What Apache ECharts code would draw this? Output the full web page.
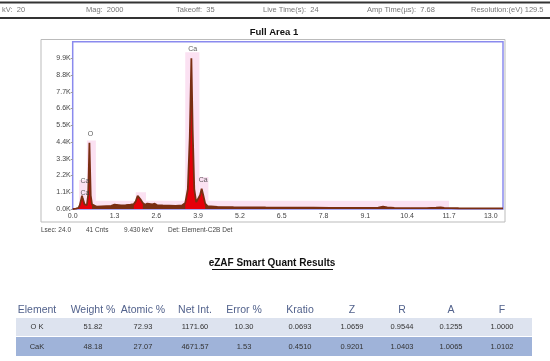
<!DOCTYPE html>
<html><head><meta charset="utf-8">
<script src="https://cdn.jsdelivr.net/npm/echarts@6/dist/echarts.min.js"></script>
<style>html,body{margin:0;padding:0;background:#fff}#c{width:550px;height:361px}</style>
</head><body><div id="c"></div>
<script>
// ---- spectrum data (keV, counts) ----
const energy = [0.00,0.10,0.18,0.22,0.26,0.29,0.31,0.34,0.37,0.40,0.44,0.48,0.50,0.52,0.54,0.56,0.60,0.66,0.75,0.90,1.05,1.20,1.30,1.36,1.50,1.65,1.80,1.90,1.96,2.02,2.06,2.12,2.18,2.25,2.32,2.38,2.48,2.55,2.62,2.80,3.00,3.20,3.40,3.50,3.58,3.64,3.69,3.73,3.78,3.84,3.90,3.96,4.01,4.06,4.12,4.20,4.50,5.00,5.50,6.00,6.50,7.00,7.50,8.00,8.50,9.00,9.50,9.65,9.71,9.78,10.00,10.50,11.00,11.30,11.44,11.55,12.00,12.50,13.00,13.38];
const counts = [0,20,80,250,600,870,700,500,300,220,260,900,2500,4350,2600,900,300,180,150,170,190,210,290,220,230,250,290,320,500,860,780,600,400,280,360,270,300,350,260,230,220,210,230,400,1300,4700,9900,5200,1300,450,500,900,1330,900,350,180,140,120,110,100,95,90,85,80,75,75,90,160,200,110,65,60,60,90,110,70,50,45,40,35];
const roiRanges = [[0.18,0.62],[1.90,2.20],[3.50,4.15]];
const roiBands = [[0.20,0.44,1900],[0.44,0.72,4500],[1.96,2.28,1100],[3.50,3.94,10300],[3.94,4.22,2100],[0.72,11.7,550]];
const peakNames = ['Ca','Ca','O','Ca','Ca'];
const peakE = [0.38,0.38,0.55,3.73,4.06];
const peakY = [1812,1041,4929,10491,1878];
const yTicks = {min:0,max:10990,interval:1100};
const xTicks = {min:0,max:13.38,interval:1.3};
// ---- header / footer ----
const headerTexts = [['kV:  20',2],['Mag:  2000',86],['Takeoff:  35',176],['Live Time(s):  24',263],['Amp Time(µs):  7.68',367],['Resolution:(eV) 129.5',471]];
const footerTexts = [['Lsec: 24.0',41],['41 Cnts',86],['9.430 keV',124],['Det: Element-C2B Det',168]];
// ---- table ----
const tableHeaders = ['Element','Weight %','Atomic %','Net Int.','Error %','Kratio','Z','R','A','F'];
const rowOK = ['O K','51.82','72.93','1171.60','10.30','0.0693','1.0659','0.9544','0.1255','1.0000'];
const rowCaK = ['CaK','48.18','27.07','4671.57','1.53','0.4510','0.9201','1.0403','1.0065','1.0102'];
const colX = [37,93,143,195,244,300,352,402,451,502];

const spec = energy.map((e,i)=>[e,counts[i]]);
const inRoi = e => roiRanges.some(r=>e>=r[0]&&e<=r[1]);
const roiData = energy.map((e,i)=> inRoi(e)?[e,counts[i]]:[e,'-']);
const peakData = peakE.map((e,i)=>({name:peakNames[i],value:[e,peakY[i]]}));

const FONT = '"Liberation Sans", Arial, sans-serif';
const graphic = [];
graphic.push({type:'rect',shape:{x:0,y:1.5,width:550,height:2},style:{fill:'#333'}});
graphic.push({type:'rect',shape:{x:0,y:17,width:550,height:2},style:{fill:'#333'}});
headerTexts.forEach(t=>graphic.push({type:'text',x:t[1],y:10,style:{text:t[0],fill:'#777',font:'7.5px '+FONT,verticalAlign:'middle'}}));
graphic.push({type:'text',x:274,y:32,style:{text:'Full Area 1',fill:'#111',font:'bold 9.5px '+FONT,align:'center',verticalAlign:'middle'}});
graphic.push({type:'rect',shape:{x:41,y:39.5,width:464,height:182.5},style:{fill:'none',stroke:'#bbb',lineWidth:1},z:-1});
footerTexts.forEach(t=>graphic.push({type:'text',x:t[1],y:230,style:{text:t[0],fill:'#444',font:'6.5px '+FONT,verticalAlign:'middle'}}));
graphic.push({type:'text',x:272,y:263,style:{text:'eZAF Smart Quant Results',fill:'#111',font:'bold 10px '+FONT,align:'center',verticalAlign:'middle'}});
graphic.push({type:'rect',shape:{x:212,y:269,width:121,height:1},style:{fill:'#111'}});
graphic.push({type:'rect',shape:{x:16,y:318,width:516,height:18},style:{fill:'#dde3ef'}});
graphic.push({type:'rect',shape:{x:16,y:337,width:516,height:19},style:{fill:'#9fb3d9'}});
tableHeaders.forEach((h,i)=>graphic.push({type:'text',x:colX[i],y:310,style:{text:h,fill:'#52628c',font:'10.5px '+FONT,align:'center',verticalAlign:'middle'}}));
rowOK.forEach((h,i)=>graphic.push({type:'text',x:colX[i],y:327,style:{text:h,fill:'#333',font:'7.5px '+FONT,align:'center',verticalAlign:'middle'}}));
rowCaK.forEach((h,i)=>graphic.push({type:'text',x:colX[i],y:346.5,style:{text:h,fill:'#333',font:'7.5px '+FONT,align:'center',verticalAlign:'middle'}}));

const chart = echarts.init(document.getElementById('c'),null,{renderer:'canvas'});
chart.setOption({
  animation:false,
  grid:{left:72.7,right:47,top:41.7,bottom:152,show:true,borderColor:'#8a8aee',borderWidth:1.5,backgroundColor:'#fff'},
  xAxis:{type:'value',min:xTicks.min,max:xTicks.max,interval:xTicks.interval,
    axisLine:{show:false},axisTick:{show:false},splitLine:{show:false},
    axisLabel:{fontSize:7,color:'#444',fontFamily:FONT,margin:4,formatter:v=>v.toFixed(1),showMaxLabel:false}},
  yAxis:{type:'value',min:yTicks.min,max:yTicks.max,interval:yTicks.interval,
    axisLine:{show:false},axisTick:{show:true,length:2,lineStyle:{color:'#999'}},splitLine:{show:false},
    axisLabel:{fontSize:7,color:'#444',fontFamily:FONT,margin:2,showMaxLabel:false,
      formatter:v=> v>yTicks.max-yTicks.interval*0.9+1100 ? '' : (v/1000).toFixed(1)+'K'}},
  series:[
    {type:'line',data:spec,symbol:'none',lineStyle:{width:0},areaStyle:{color:'#7a2e12',opacity:1},z:2,
      markArea:{silent:true,itemStyle:{color:'#fbe1f2'},data:roiBands.map(b=>[{coord:[b[0],0]},{coord:[b[1],b[2]]}])}},
    {type:'line',data:roiData,symbol:'none',lineStyle:{width:0},areaStyle:{color:'#e6000a',opacity:1},z:3,connectNulls:false},
    {type:'line',data:spec,symbol:'none',lineStyle:{width:1.8,color:'#7a2e12'},z:4},
    {type:'scatter',data:peakData,symbolSize:0,z:5,
      label:{show:true,position:'inside',formatter:p=>p.name,fontSize:7,color:'#333',fontFamily:FONT}}
  ],
  graphic:graphic
});
</script></body></html>
